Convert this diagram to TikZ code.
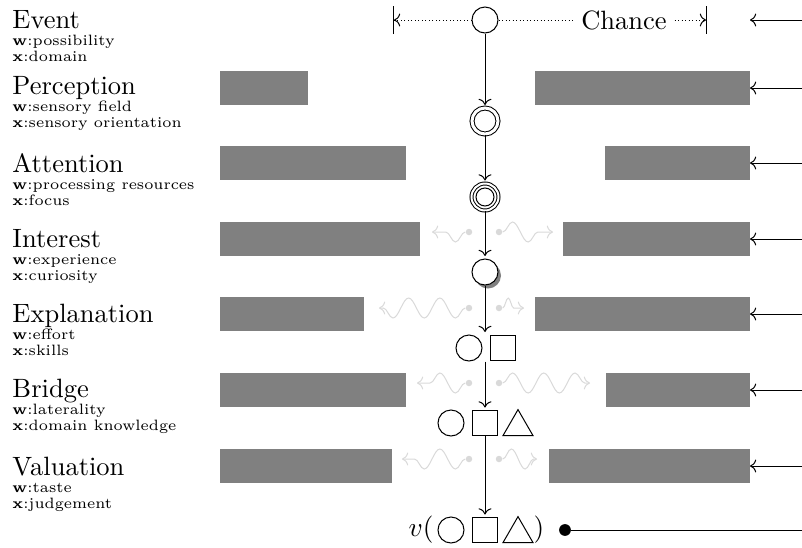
\documentclass[tikz,border=0pt]{standalone}
\usepackage{amsmath}
\usepackage{tikz}
\usetikzlibrary{arrows.meta,shapes,shadows,decorations.pathmorphing,positioning}
\tikzstyle{stage}=[anchor=base west,inner sep=0pt,font=\fontsize{10.6}{12}\selectfont]
\tikzstyle{detail}=[anchor=base west,inner sep=0pt,font=\fontsize{6}{7}\selectfont]
\tikzstyle{block}=[fill=gray,minimum height=13.6pt,inner sep=0pt]
\tikzstyle{flow}=[draw,->,shorten >=1pt]
\tikzstyle{feed}=[draw,->]
\tikzstyle{token}=[circle,draw,fill=white,minimum size=10.4pt,inner sep=0pt]
\tikzstyle{cube}=[rectangle,draw,minimum size=10pt,inner sep=0pt]
\tikzstyle{tri}=[regular polygon,regular polygon sides=3,draw,minimum size=13.9pt,inner sep=0pt]
\tikzstyle{seed}=[circle,fill=gray!30,minimum size=2.6pt,inner sep=0pt]
\tikzstyle{wave}=[draw,->,gray!30,decorate,decoration={snake,amplitude=4pt,segment length=12.5pt,post length=1pt}]
\tikzstyle{chance}=[draw,densely dotted,-{To[] Bar[width=11.2pt]}]

\begin{document}
\begin{tikzpicture}[x=0.4pt,y=-0.4pt]
    \useasboundingbox (0,0) rectangle (802,548);
    % stage labels
    \foreach \name/\y/\title/\w/\x in {ev/28/Event/possibility/domain,
                                       pe/94/Perception/sensory field/sensory orientation,
                                       at/172/Attention/processing resources/focus,
                                       in/247/Interest/experience/curiosity,
                                       ex/322/Explanation/effort/skills,
                                       br/397/Bridge/laterality/domain knowledge,
                                       va/475/Valuation/taste/judgement}{
        \node[stage] (\name-t) at (12,\y) {\title};
        \node[detail] (\name-w) at (12,\y+17) {\textbf{w}:\w};
        \node[detail] (\name-x) at (12,\y+33) {\textbf{x}:\x};
    }
    % grey blocks and inputs from the right
    \foreach \name/\y/\lw/\rw in {pe/88/35.2pt/85.6pt, at/163/74.4pt/57.6pt,
                                  in/239/80pt/74.4pt, ex/314/57.6pt/85.6pt,
                                  br/390/74.4pt/57.2pt, va/466/68.8pt/80pt}{
        \node[block,anchor=west,minimum width=\lw] (\name-l) at (219,\y) {};
        \node[block,anchor=east,minimum width=\rw] (\name-r) at (750,\y) {};
        \coordinate (\name-in) at (802,\y);
        \path[feed] (\name-in) -- (\name-r);
    }
    % waves
    \foreach \name/\y/\lt/\rt/\rs in {in/232/432/553/12.5pt, ex/308/379/524/7pt,
                                      br/383/417/590/12.5pt, va/459/402/537/11pt}{
        \node[seed] (\name-ls) at (469,\y) {};
        \node[seed] (\name-rs) at (499,\y) {};
        \coordinate (\name-lt) at (\lt,\y);
        \coordinate (\name-rt) at (\rt,\y);
        \path[wave] (\name-ls) -- (\name-lt);
        \path[wave,decoration={segment length=\rs}] (\name-rs) -- (\name-rt);
    }
    % event and chance
    \coordinate (ch-l) at (393,20);
    \coordinate (ch-r) at (707,20);
    \node[token] (ev) at (485,20) {};
    \node[fill=white,inner xsep=3pt] (chance) at (624,20) {\fontsize{10.6}{12}\selectfont Chance};
    \path[chance] (ev) -- (ch-l);
    \path[draw,densely dotted] (ev) -- (chance);
    \path[chance] (chance) -- (ch-r);
    \coordinate (ev-in) at (802,20);
    \coordinate (ev-to) at (750,20);
    \path[feed] (ev-in) -- (ev-to);
    % the stages
    \node[token,double,double distance=1.2pt] (pe) at (485,121) {};
    \node[token,double,double distance=0.8pt,minimum size=10.8pt] (at) at (485,197) {};
    \node[token,minimum size=7.2pt] (at-i) at (485,197) {};
    \node[token,drop shadow={shadow xshift=1.2pt,shadow yshift=-1.4pt,fill=gray,opacity=1}] (in) at (485,272) {};
    \node[minimum height=10.4pt,minimum width=2pt,inner sep=0pt] (ex) at (485,348) {};
    \node[token] (ex-c) at (469,348) {};
    \node[cube] (ex-b) at (503,348) {};
    \node[token] (br-c) at (451,423) {};
    \node[cube] (br-b) at (485,423) {};
    \node[tri] (br-t) at (518,427) {};
    \node[token] (fi-c) at (451,530) {};
    \node[cube] (fi-b) at (485,530) {};
    \node[tri] (fi-t) at (518,534) {};
    \node[inner sep=0pt,font=\fontsize{10.8}{12}\selectfont] (fi-v) at (421,530) {$v($};
    \node[inner sep=0pt,font=\fontsize{10.8}{12}\selectfont] (fi-r) at (539,530) {$)$};
    \node[circle,fill=black,minimum size=4.7pt,inner sep=0pt] (fi-dot) at (565,530) {};
    \coordinate (fi-out) at (802,530);
    \draw (fi-dot) -- (fi-out);
    % flow down
    \path[flow] (ev) -- (pe);
    \path[flow] (pe) -- (at);
    \path[flow] (at) -- (in);
    \path[flow] (in) -- (ex);
    \path[flow] (ex) -- (br-b);
    \path[flow] (br-b) -- (fi-b);
\end{tikzpicture}
\end{document}
